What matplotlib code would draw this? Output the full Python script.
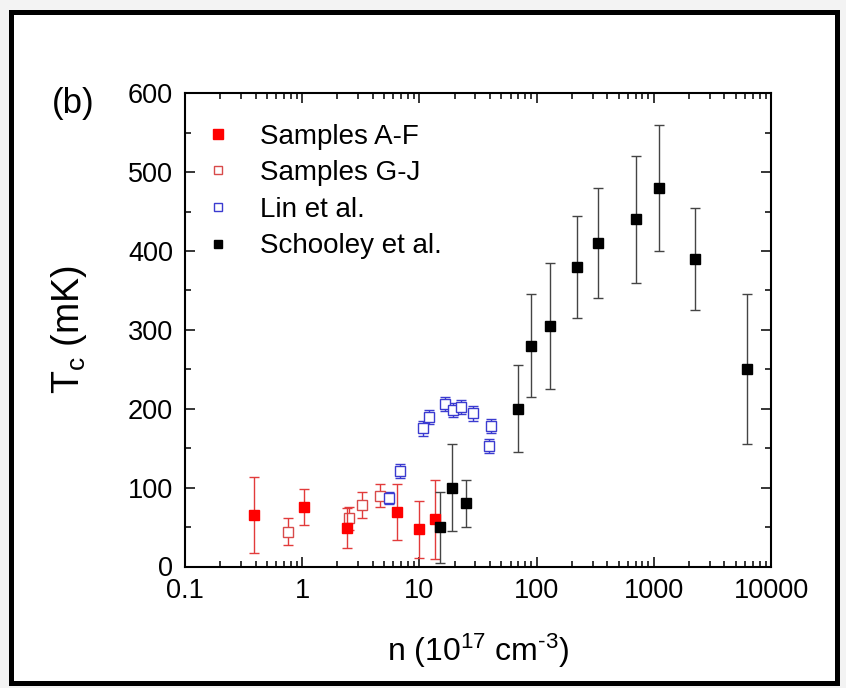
import matplotlib
matplotlib.use("Agg")
import matplotlib.pyplot as plt
from matplotlib.lines import Line2D
from matplotlib.patches import Rectangle
from matplotlib.ticker import FixedLocator, LogLocator, MultipleLocator, NullFormatter

plt.rcParams['font.family'] = ['Liberation Sans', 'DejaVu Sans']
plt.rcParams['mathtext.fontset'] = 'custom'
plt.rcParams['mathtext.rm'] = 'Liberation Sans'
plt.rcParams['mathtext.it'] = 'Liberation Sans'

# Samples A-F (filled red)
af_n = [0.39, 1.03, 2.4, 6.5, 9.9, 13.7]
af_tc = [65, 75, 49, 69, 47, 60]
af_err = [48, 23, 25, 36, 36, 50]

# Samples G-J (open red)
gj_n = [0.76, 2.5, 3.25, 4.6]
gj_tc = [44, 61, 78, 90]
gj_err = [17, 15, 16, 15]

# Lin et al. (open blue)
lin_n = [5.5, 6.8, 10.7, 12.1, 16.4, 19.3, 22.7, 28.8, 39.0, 41.0]
lin_tc = [87, 121, 175, 190, 206, 198, 202, 194, 153, 178]
lin_err = [8, 9, 9, 9, 9, 9, 9, 9, 9, 9]

# Schooley et al. (filled black)
sch_n = [15.1, 19.1, 25.2, 70, 90, 131, 221, 332, 706, 1110, 2230, 6240]
sch_tc = [50, 100, 80, 200, 280, 305, 380, 410, 440, 480, 390, 250]
sch_err = [45, 55, 30, 55, 65, 80, 65, 70, 80, 80, 65, 95]

xtick_vals = [0.1, 1, 10, 100, 1000, 10000]
xtick_labels = ['0.1', '1', '10', '100', '1000', '10000']
ytick_vals = [0, 100, 200, 300, 400, 500, 600]

fig = plt.figure(figsize=(8.46, 6.88), dpi=100, facecolor='#f3f3f3')
# outer black frame around the panel
fig.patches.append(Rectangle((10.5 / 846, 5.5 / 688), 826 / 846, 671 / 688,
                             transform=fig.transFigure, facecolor='white',
                             edgecolor='black', linewidth=3.6, zorder=-5))

ax = fig.add_axes([185 / 846, 121.5 / 688, 586 / 846, 473.2 / 688])
ax.set_facecolor('none')

red_err = '#e23b3b'
blue = '#3b3bd0'
ax.errorbar(af_n, af_tc, yerr=af_err, fmt='s', ms=7.4, mfc='#ff0000', mec='#ff0000',
            ecolor=red_err, elinewidth=1.0, capsize=3.5, capthick=1.0, zorder=3)
ax.errorbar(gj_n, gj_tc, yerr=gj_err, fmt='s', ms=7.2, mfc='white', mec='#d84a4a', mew=1.0,
            ecolor=red_err, elinewidth=1.0, capsize=3.5, capthick=1.0, zorder=2)
ax.errorbar(lin_n, lin_tc, yerr=lin_err, fmt='s', ms=6.6, mfc='white', mec=blue, mew=1.0,
            ecolor=blue, elinewidth=1.0, capsize=3.5, capthick=1.0, zorder=2)
ax.errorbar(sch_n, sch_tc, yerr=sch_err, fmt='s', ms=6.6, mfc='black', mec='black',
            ecolor='#444444', elinewidth=1.0, capsize=3.5, capthick=1.0, zorder=3)

ax.set_xscale('log')
ax.set_xlim(0.1, 10000)
ax.set_ylim(0, 600)
ax.xaxis.set_major_locator(FixedLocator(xtick_vals))
ax.set_xticklabels(xtick_labels)
ax.xaxis.set_minor_locator(LogLocator(base=10, subs=range(2, 10), numticks=20))
ax.xaxis.set_minor_formatter(NullFormatter())
ax.set_yticks(ytick_vals)
ax.yaxis.set_minor_locator(MultipleLocator(50))

for s in ax.spines.values():
    s.set_linewidth(1.5)
ax.tick_params(which='both', direction='in', top=True, right=True, width=1.1,
               labelsize=19.5)
ax.tick_params(axis='y', pad=8.5)
ax.tick_params(axis='x', pad=8)
ax.tick_params(which='major', length=7)
ax.tick_params(which='minor', length=4)

ax.set_xlabel(r'n (10$^{17}$ cm$^{\text{-}3}$)', fontsize=23, labelpad=20)
ax.set_ylabel(r'T$_{\mathrm{c}}$ (mK)', fontsize=27, labelpad=28)

fig.text(52 / 846, 1 - 103 / 688, '(b)', fontsize=25, va='center', ha='left')

handles = [
    Line2D([], [], ls='none', marker='s', ms=7.4, mfc='#ff0000', mec='#ff0000'),
    Line2D([], [], ls='none', marker='s', ms=6.2, mfc='white', mec='#d84a4a', mew=1.0),
    Line2D([], [], ls='none', marker='s', ms=6.2, mfc='white', mec=blue, mew=1.0),
    Line2D([], [], ls='none', marker='s', ms=5.6, mfc='black', mec='black'),
]
labels = ['Samples A-F', 'Samples G-J', 'Lin et al.', 'Schooley et al.']
ax.legend(handles, labels, loc='upper left', bbox_to_anchor=(0.0, 0.977), frameon=False,
          fontsize=20, handlelength=1.0, handletextpad=1.0, labelspacing=0.38,
          borderaxespad=0.3, borderpad=0.4)

fig.savefig('out.png', dpi=100, facecolor=fig.get_facecolor())
